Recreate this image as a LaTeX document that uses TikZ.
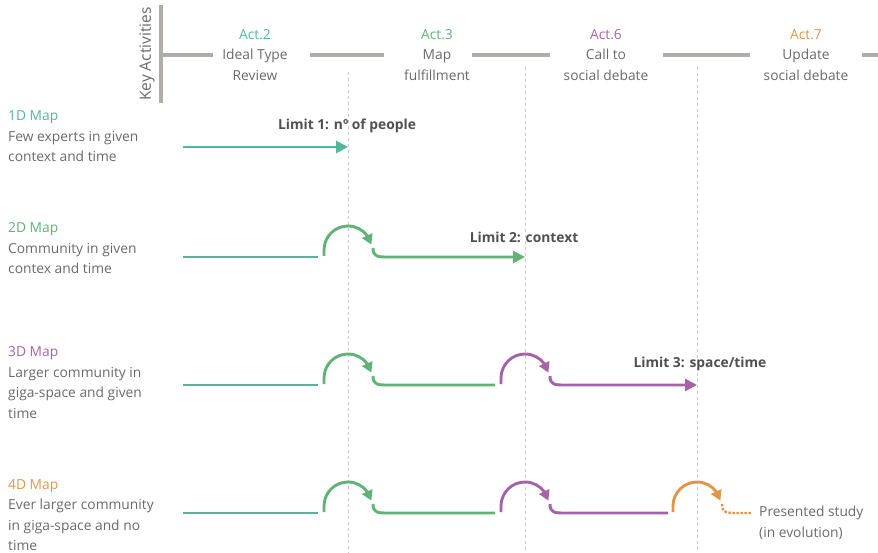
\documentclass[tikz,border=0pt]{standalone}
\usepackage{fontspec}
\setmainfont{Open Sans}
\usetikzlibrary{arrows.meta,bending}
\definecolor{cteal}{RGB}{80,183,158}
\definecolor{cgreen}{RGB}{96,178,118}
\definecolor{cpurple}{RGB}{166,98,168}
\definecolor{corange}{RGB}{224,150,70}
\definecolor{cbar}{RGB}{178,172,168}
\definecolor{ctext}{RGB}{105,105,105}
\definecolor{climit}{RGB}{80,80,80}
\definecolor{cdash}{RGB}{200,200,200}
\newcommand\mkhump[3]{%
  \draw[flow,#3,-{Triangle[length=10pt,width=11pt,flex]}] (#1-24,#2-1) -- (#1-24,#2-7) arc[start angle=180,end angle=347,radius=24];}
\newcommand\mkdesc[4]{%
  \draw[flow,#3] (#1+25,#2-9) .. controls (#1+25,#2) and (#1+30,#2) .. (#1+40,#2) -- (#4,#2);}
\begin{document}
\begin{tikzpicture}[x=1pt,y=-1pt,
  flow/.style={line width=2.9pt},
  tipflow/.style={flow,-{Triangle[length=12pt,width=12pt]}},
  bar/.style={line width=3.8pt,cbar},
  guide/.style={line width=0.8pt,cdash,dash pattern=on 3pt off 3pt},
  head/.style={align=center,text=ctext,font=\fontsize{13.8}{20.5}\selectfont,inner sep=0pt},
  lbl/.style={align=left,text=ctext,font=\fontsize{13.8}{20.5}\selectfont,inner sep=0pt,anchor=north west},
  limit/.style={text=climit,font=\fontsize{13.8}{16}\selectfont\bfseries,inner sep=0pt}]
\useasboundingbox (0,0) rectangle (878,553);
% guides
\draw[guide] (348,72) -- (348,553);
\draw[guide] (525,67) -- (525,553);
\draw[guide] (697,67) -- (697,553);
% key activities bar
\draw[bar] (161,5) -- (161,103);
\node[rotate=90,text=ctext,font=\fontsize{15.5}{17}\selectfont,inner sep=0pt] (ka) at (147,54) {Key Activities};
\draw[bar] (161,55) -- (213,55);
\draw[bar] (310,55) -- (384,55);
\draw[bar] (472,55) -- (550,55);
\draw[bar] (663,55) -- (750,55);
\draw[bar] (862,55) -- (878,55);
\node[head] (a2) at (255,55) {\textcolor{cteal}{Act.2}\\Ideal Type\\Review};
\node[head] (a3) at (437,55) {\textcolor{cgreen}{Act.3}\\Map\\fulfillment};
\node[head] (a6) at (606,55) {\textcolor{cpurple}{Act.6}\\Call to\\social debate};
\node[head] (a7) at (806,55) {\textcolor{corange}{Act.7}\\Update\\social debate};
% left labels
\node[lbl] (m1) at (8,110.5) {\textcolor{cteal}{1D Map}\\Few experts in given\\context and time};
\node[lbl] (m2) at (8,222.5) {\textcolor{cgreen}{2D Map}\\Community in given\\contex and time};
\node[lbl] (m3) at (8,346.5) {\textcolor{cpurple}{3D Map}\\Larger community in\\giga-space and given\\time};
\node[lbl] (m4) at (8,479) {\textcolor{corange}{4D Map}\\Ever larger community\\in giga-space and no\\time};
% limits
\node[limit] (l1) at (347,126) {Limit 1: nº of people};
\node[limit] (l2) at (524,237) {Limit 2: context};
\node[limit] (l3) at (700,364) {Limit 3: space/time};
% row 1
\draw[tipflow,cteal] (183,147) -- (348,147);
% row 2
\draw[flow,cteal] (183,257) -- (318,257);
\mkhump{348}{257}{cgreen}
\draw[tipflow,cgreen] (373,248) .. controls (373,257) and (378,257) .. (388,257) -- (525,257);
% row 3
\draw[flow,cteal] (183,385) -- (318,385);
\mkhump{348}{385}{cgreen}
\mkdesc{348}{385}{cgreen}{495}
\mkhump{525}{385}{cpurple}
\draw[tipflow,cpurple] (550,376) .. controls (550,385) and (555,385) .. (565,385) -- (697,385);
% row 4
\draw[flow,cteal] (183,513) -- (318,513);
\mkhump{348}{513}{cgreen}
\mkdesc{348}{513}{cgreen}{495}
\mkhump{525}{513}{cpurple}
\mkdesc{525}{513}{cpurple}{668}
\mkhump{697}{513}{corange}
\draw[line width=2.4pt,corange,dash pattern=on 2.5pt off 1.5pt] (722,504) .. controls (722,513) and (727,513) .. (737,513) -- (752,513);
\node[text=ctext,font=\fontsize{13.8}{20.5}\selectfont,inner sep=0pt,anchor=west,align=left] (ps) at (759,523) {Presented study\\(in evolution)};
\end{tikzpicture}
\end{document}
